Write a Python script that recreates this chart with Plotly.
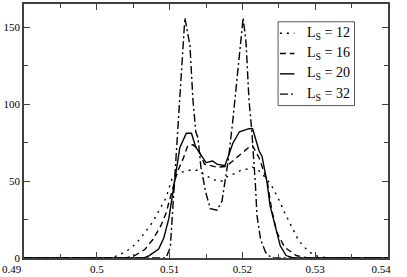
import plotly.graph_objects as go

# --- datos ---
x_12 = [0.49, 0.502, 0.5028, 0.5037, 0.5046, 0.5055, 0.5066, 0.5077, 0.5088, 0.5095, 0.5103,
        0.5112, 0.5125, 0.5139, 0.5152, 0.5165, 0.5172, 0.5178, 0.519, 0.5198, 0.5209, 0.5214,
        0.5222, 0.5232, 0.524, 0.5249, 0.5258, 0.5267, 0.5277, 0.5291, 0.5305, 0.532, 0.54]
y_12 = [0, 0, 1.6, 3.5, 6, 10, 16.5, 23.5, 33, 39, 51,
        55, 57, 57, 53, 50, 50, 52.5, 55, 57, 58, 59,
        57, 52, 47, 39, 29.5, 20.5, 11.5, 4, 0.8, 0, 0]

x_16 = [0.49, 0.504, 0.5052, 0.5066, 0.5077, 0.5088, 0.5095, 0.5102, 0.511, 0.5119, 0.5125,
        0.5132, 0.5139, 0.5148, 0.5165, 0.5178, 0.5196, 0.5209, 0.5214, 0.5223, 0.5234, 0.524,
        0.5247, 0.5258, 0.5274, 0.529, 0.54]
y_16 = [0, 0, 1.6, 5.5, 12, 21, 29, 42, 55, 65, 73,
        73.5, 71, 61, 59, 59.5, 67, 72, 73, 65, 50, 32,
        17, 7, 1.6, 0, 0]

x_20 = [0.49, 0.5065, 0.5072, 0.5085, 0.5092, 0.5099, 0.5103, 0.5108, 0.5114, 0.5123, 0.513,
        0.5136, 0.515, 0.5159, 0.5165, 0.5176, 0.5187, 0.5196, 0.5209, 0.5214, 0.5223, 0.5227,
        0.5234, 0.5238, 0.5245, 0.5252, 0.526, 0.527, 0.54]
y_20 = [0, 0, 1.6, 5.8, 13, 25.7, 38, 53, 71.6, 81, 81,
        72, 62, 63, 61, 60, 74.7, 82, 84, 84, 69.5, 66,
        48.6, 34, 21.5, 7.9, 1.6, 0, 0]

x_32 = [0.49, 0.5095, 0.5101, 0.5103, 0.5105, 0.5108, 0.511, 0.5121, 0.5128, 0.5132, 0.5136,
        0.5139, 0.5143, 0.515, 0.5156, 0.5165, 0.5172, 0.5176, 0.5181, 0.5187, 0.5194, 0.5201,
        0.5205, 0.5209, 0.5213, 0.5216, 0.5218, 0.522, 0.5225, 0.5232, 0.524, 0.54]
y_32 = [0, 0, 7, 21.5, 42, 57, 78, 156, 138, 103, 82,
        78, 59, 42, 32, 31, 37, 48.6, 65, 90, 124, 156,
        140, 103, 82, 63, 46.5, 27.7, 12, 3.5, 0, 0]

etiquetas = ['L<sub>S</sub> = 12', 'L<sub>S</sub> = 16', 'L<sub>S</sub> = 20', 'L<sub>S</sub> = 32']
x_ticks = [0.49, 0.5, 0.51, 0.52, 0.53, 0.54]
# las etiquetas de los extremos van corridas hacia dentro (espacios duros)
x_ticktext = ['0.49' + '\u00a0' * 9, '0.5', '0.51', '0.52', '0.53', '0.54' + '\u00a0' * 5]
y_ticks = [0, 50, 100, 150]

# estilos de línea (punteado, rayado, continuo, raya-punto)
ESTILOS = ['2px,5px', '6px,4px', 'solid', '8px,3px,2px,3px']
FUENTE = 'Liberation Serif'

fig = go.Figure()
series = [(x_12, y_12), (x_16, y_16), (x_20, y_20), (x_32, y_32)]
for (xs, ys), dash, nombre in zip(series, ESTILOS, etiquetas):
    fig.add_trace(go.Scatter(x=xs, y=ys, mode='lines', name=nombre,
                             line=dict(color='black', width=1.4, dash=dash),
                             showlegend=False))

# --- leyenda dibujada a mano (caja + muestras cortas) ---
x0, y0, paso = 0.698, 0.93, 0.08
fig.add_shape(type='rect', xref='paper', yref='paper',
              x0=x0, x1=x0 + 0.21, y0=y0 - 0.33, y1=y0,
              line=dict(color='#555555', width=1), fillcolor='white', layer='above')
for i, (dash, nombre) in enumerate(zip(ESTILOS, etiquetas)):
    yy = y0 - 0.045 - i * paso
    fig.add_shape(type='line', xref='paper', yref='paper',
                  x0=x0 + 0.005, x1=x0 + 0.045, y0=yy, y1=yy,
                  line=dict(color='black', width=1.4, dash=dash), layer='above')
    fig.add_annotation(x=x0 + 0.075, y=yy, xref='paper', yref='paper', text=nombre,
                       showarrow=False, xanchor='left', yanchor='middle',
                       font=dict(family=FUENTE, size=14, color='black'))

eje = dict(showgrid=False, zeroline=False, showline=True, linecolor='#404040', linewidth=1.5,
           mirror='ticks', ticks='inside', ticklen=6, tickcolor='#404040', tickwidth=1,
           ticklabeloverflow='allow',
           tickfont=dict(family=FUENTE, size=11, color='black'))

fig.update_layout(
    width=407, height=277,
    margin=dict(l=20, r=10, t=2, b=13),
    plot_bgcolor='white', paper_bgcolor='white',
    xaxis=dict(range=[0.49, 0.54], tickvals=x_ticks, ticktext=x_ticktext,
               minor=dict(dtick=0.005, ticks='inside', ticklen=4, tickcolor='#404040'), **eje),
    yaxis=dict(range=[0, 165], tickvals=y_ticks,
               minor=dict(dtick=25, ticks='inside', ticklen=4, tickcolor='#404040'), **eje),
)

# quitar el margen del body para que el gráfico ocupe la ventana exacta
fig.write_html("out.html", config={'displayModeBar': False},
               post_script="document.body.style.margin='0';")
